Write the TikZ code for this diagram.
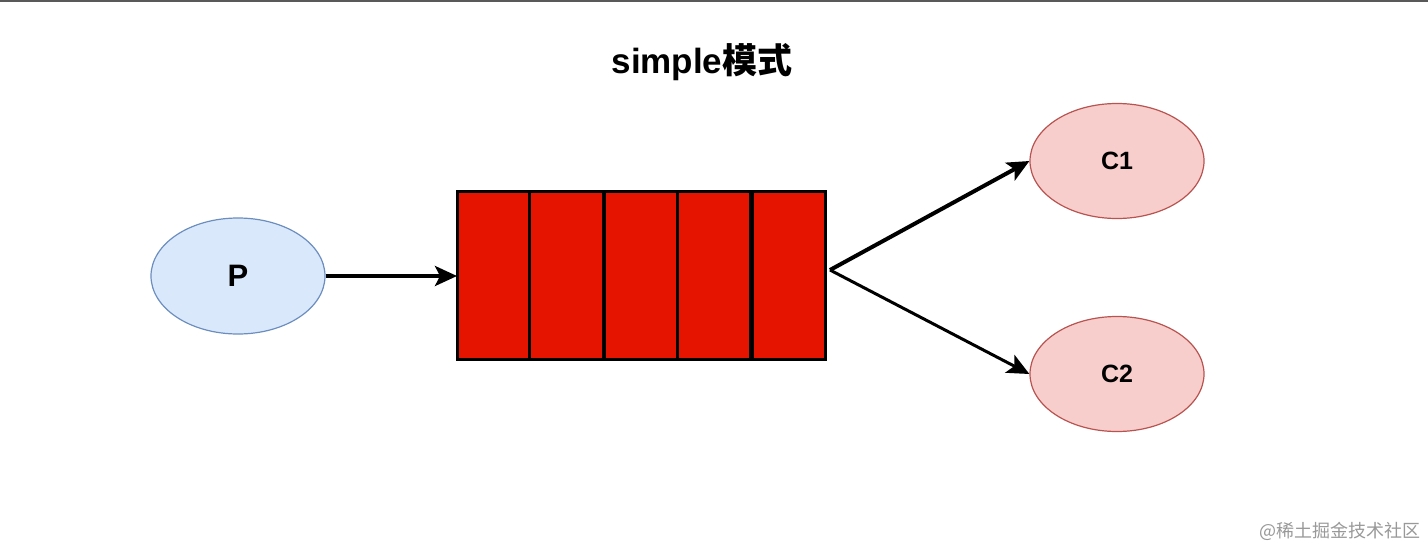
\documentclass[tikz,border=0pt]{standalone}
\usepackage{fontspec}
\setmainfont{Liberation Sans}
\newfontfamily\cjk{Noto Sans CJK SC}
\usetikzlibrary{arrows.meta,shapes.geometric}
\definecolor{pfill}{HTML}{DAE8FC}
\definecolor{pdraw}{HTML}{6C8EBF}
\definecolor{cfill}{HTML}{F8CECC}
\definecolor{cdraw}{HTML}{B85450}
\definecolor{qred}{HTML}{E51400}
\begin{document}
\begin{tikzpicture}[x=1pt,y=-1pt,
  prod/.style={ellipse, draw=pdraw, fill=pfill, line width=1.2pt, minimum width=174pt, minimum height=116pt, inner sep=0pt, font=\fontsize{31}{34}\selectfont\bfseries},
  cons/.style={ellipse, draw=cdraw, fill=cfill, line width=1.2pt, minimum width=174pt, minimum height=115pt, inner sep=0pt, font=\fontsize{25}{28}\selectfont\bfseries},
  cell/.style={draw=black, fill=qred, line width=3pt},
  link/.style={-{Stealth[length=22pt,width=20pt,inset=5pt]}, line width=3.5pt},
]
\useasboundingbox (0,0) rectangle (1428,549);
\fill[white] (0,0) rectangle (1428,549);
\draw[color=black!65, line width=1.5pt] (0,0.75) -- (1428,0.75);
\node (title) at (702,62) {\fontsize{35}{40}\selectfont\bfseries simple{\cjk\bfseries 模式}};
\node[prod] (P) at (238,276) {P};
\node[cons] (C1) at (1117,161) {C1};
\node[cons] (C2) at (1117,374) {C2};
\draw[cell] (457,191) rectangle (529,359);
\draw[cell] (529,191) rectangle (603,359);
\draw[cell] (604,191) rectangle (677,359);
\draw[cell] (677,191) rectangle (750,359);
\draw[cell] (752,191) rectangle (825,359);
\coordinate (qin) at (457,276);
\coordinate (qout) at (830,270);
\draw[link] (P.east) -- (qin);
\draw[link, line width=4pt] (qout) -- (C1.west);
\draw[link, line width=3pt] (qout) -- (C2.west);
\node[text=black!40, font=\cjk\fontsize{18}{20}\selectfont] (wm) at (1340,531) {@稀土掘金技术社区};
\end{tikzpicture}
\end{document}
